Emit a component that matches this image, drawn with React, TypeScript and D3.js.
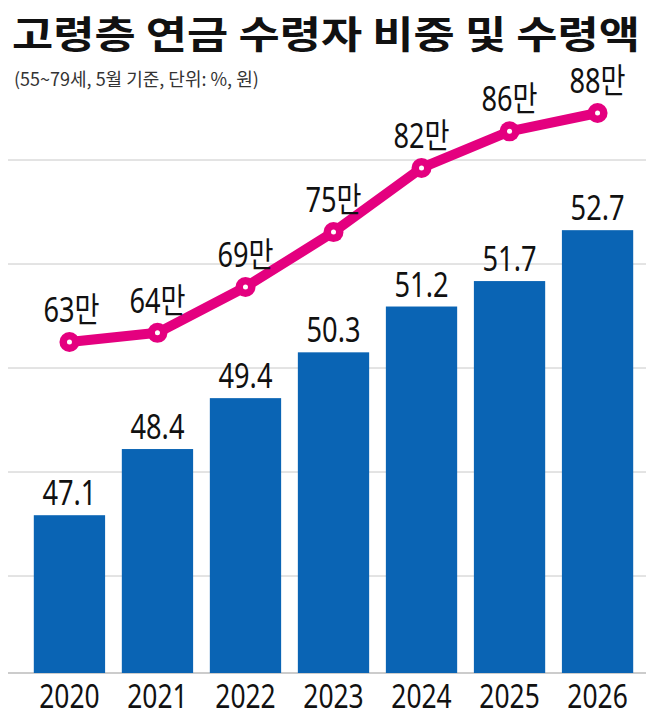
import * as d3 from 'd3';

const years = ['2020', '2021', '2022', '2023', '2024', '2025', '2026'];
const share = [47.1, 48.4, 49.4, 50.3, 51.2, 51.7, 52.7];
const amount = [63, 64, 69, 75, 82, 86, 88];
const gridRows = [0, 1, 2, 3, 4];

const W = 656;
const H = 726;
const base = 673;
const font = '"Noto Sans", "Noto Sans CJK KR", sans-serif';

// narrow label like the condensed face in the original
const Label = ({ x, y, size, children }: { x: number; y: number; size: number; children: any }) => (
  <text transform={`translate(${x},${y}) scale(0.8,1)`} textAnchor="middle" fontSize={size} fontFamily={font} fill="#111">
    {children}
  </text>
);

export default function App() {
  const x = d3.scaleBand().domain(years).range([25, 642]).paddingInner(0.19).paddingOuter(0.1);
  const y = d3.scaleLinear().domain([44, 53]).range([base, base - 9 * 50.9]);
  const yl = d3.scaleLinear().domain([63, 88]).range([342, 113]);
  const cxOf = (i: number) => x(years[i])! + x.bandwidth() / 2;
  const line = d3
    .line<number>()
    .x((_, i) => cxOf(i))
    .y((d) => yl(d));

  return (
    <svg width={W} height={H} style={{ position: 'absolute', left: 0, top: 0 }}>
      <rect width={W} height={H} fill="#fff" />
      <text x={12} y={48} fontSize={38} fontWeight="bold" textLength={628} lengthAdjust="spacingAndGlyphs" fontFamily='"Noto Sans CJK KR", sans-serif' fill="#111">
        고령층 연금 수령자 비중 및 수령액
      </text>
      <text x={14} y={86} fontSize={18} fontFamily='"Noto Sans CJK KR", sans-serif' fill="#333">
        (55~79세, 5월 기준, 단위: %, 원)
      </text>
      {gridRows.map((r) => (
        <line key={r} x1={8} x2={646} y1={160 + r * 104} y2={160 + r * 104} stroke="#c8c8c8" strokeWidth={1} />
      ))}
      <line x1={8} x2={646} y1={base} y2={base} stroke="#999" strokeWidth={1} />
      {share.map((v, i) => (
        <g key={years[i]}>
          <rect x={x(years[i])} y={y(v)} width={x.bandwidth()} height={base - y(v)} fill="#0a64b4" />
          <Label x={cxOf(i)} y={y(v) - 10} size={34}>{v.toFixed(1)}</Label>
          <Label x={cxOf(i)} y={708} size={33}>{years[i]}</Label>
        </g>
      ))}
      <path d={line(amount)!} fill="none" stroke="#e4007f" strokeWidth={10} strokeLinejoin="round" />
      {amount.map((v, i) => (
        <g key={'a' + i}>
          <circle cx={cxOf(i)} cy={yl(v)} r={10} fill="#e4007f" />
          <circle cx={cxOf(i)} cy={yl(v)} r={2.5} fill="#fff" />
          <Label x={cxOf(i) + (i === 0 ? 2 : 0)} y={yl(v) - 20} size={34}>{v}만</Label>
        </g>
      ))}
    </svg>
  );
}
